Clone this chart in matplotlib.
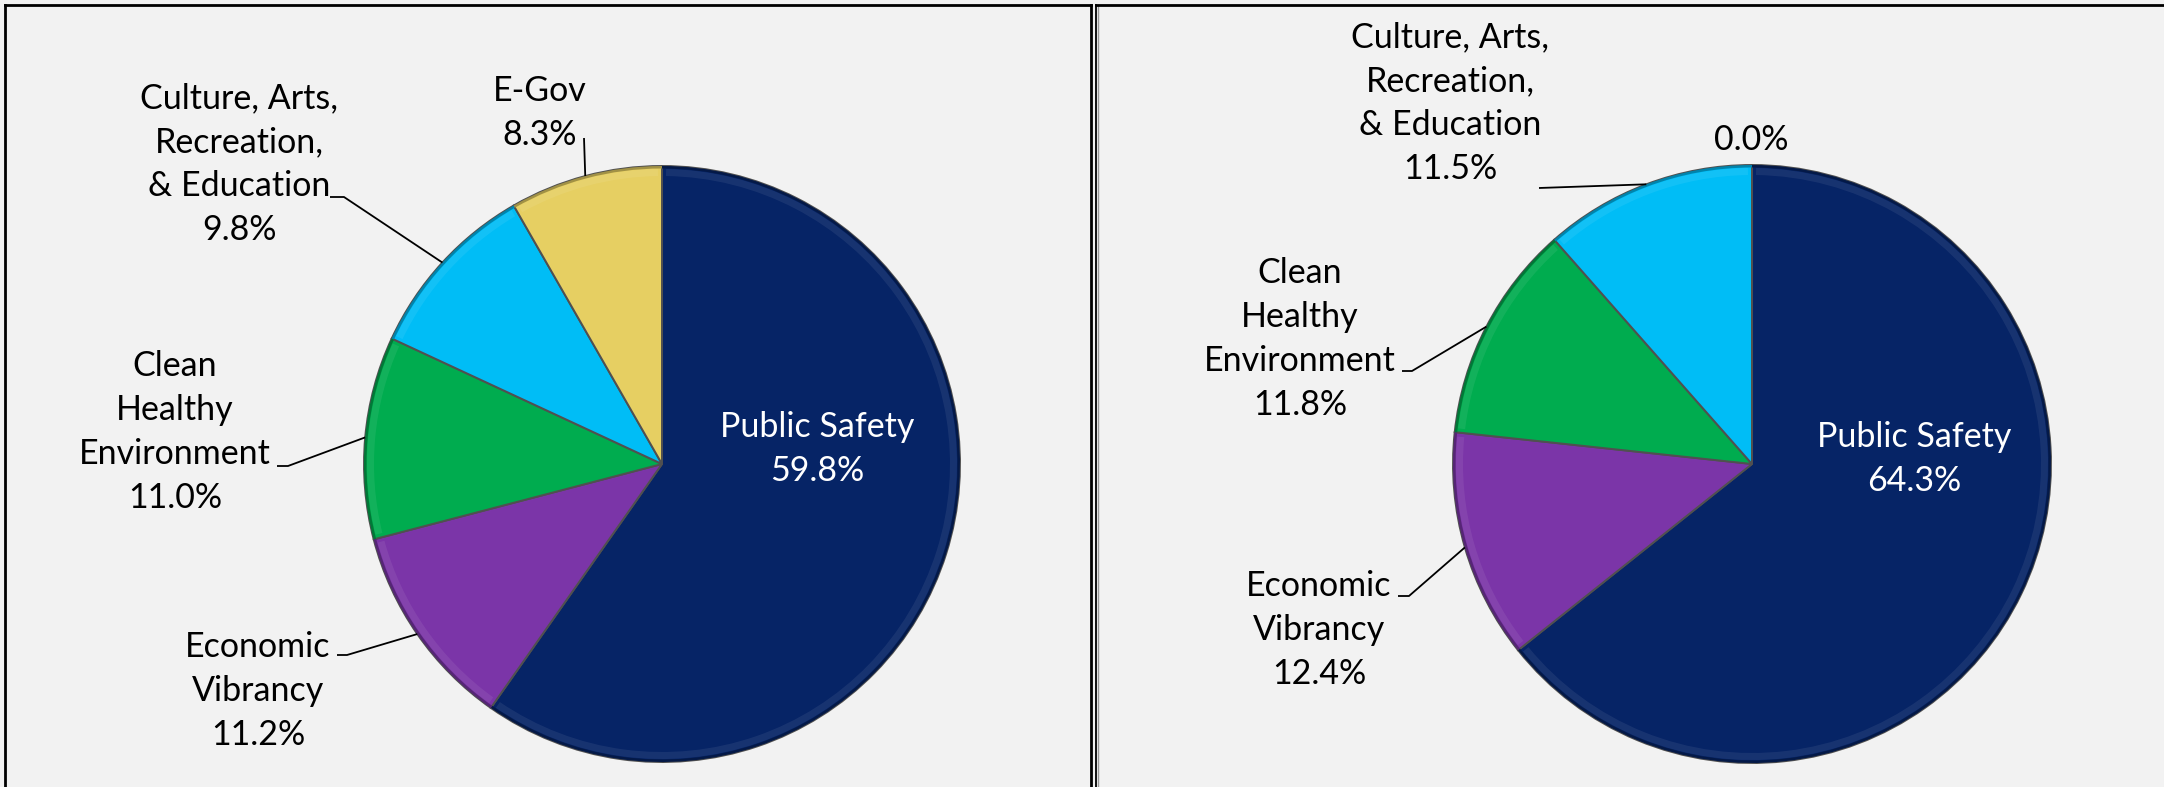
import matplotlib
matplotlib.use("Agg")
import matplotlib.pyplot as plt
from matplotlib.patches import Wedge
import matplotlib.colors as mcolors
import numpy as np

# ---------------- data ----------------
categories = ["Public Safety", "Economic Vibrancy", "Clean Healthy Environment",
              "Culture, Arts, Recreation, & Education", "E-Gov"]
left_values = [59.8, 11.2, 11.0, 9.8, 8.3]
right_values = [64.3, 12.4, 11.8, 11.5, 0.0]
left_labels = ["Public Safety\n59.8%", "Economic\nVibrancy\n11.2%",
               "Clean\nHealthy\nEnvironment\n11.0%",
               "Culture, Arts,\nRecreation,\n& Education\n9.8%", "E-Gov\n8.3%"]
right_labels = ["Public Safety\n64.3%", "Economic\nVibrancy\n12.4%",
                "Clean\nHealthy\nEnvironment\n11.8%",
                "Culture, Arts,\nRecreation,\n& Education\n11.5%", "0.0%"]
colors = ["#062466", "#7B35A8", "#00AC4F", "#00BDF6", "#E6CF62"]

W, H = 2164, 787
BG = "#F2F2F2"

fig = plt.figure(figsize=(W / 100, H / 100), dpi=100, facecolor=BG)
ax = fig.add_axes([0, 0, 1, 1])
ax.set_facecolor(BG)

FONT = "Lato"
FS = 24.5


def Y(y):
    return H - y


def lighten(c, f):
    r, g, b = mcolors.to_rgb(c)
    return (r + (1 - r) * f, g + (1 - g) * f, b + (1 - b) * f)


def darken(c, f):
    r, g, b = mcolors.to_rgb(c)
    return (r * (1 - f), g * (1 - f), b * (1 - f))


def draw_pie(values, labels, center, radius, text_pos, leaders):
    cx, cy = center[0], Y(center[1])
    wedges, _ = ax.pie(values, colors=colors, startangle=90, counterclock=False,
                       center=(cx, cy), radius=radius, frame=True,
                       wedgeprops=dict(linewidth=1.4, edgecolor="#505050"))
    # subtle bevel
    for w, c in zip(wedges, colors):
        if abs(w.theta2 - w.theta1) < 0.01:
            continue
        ax.add_patch(Wedge((cx, cy), radius - 3, w.theta1 + 0.8, w.theta2 - 0.8,
                           width=7, facecolor=lighten(c, 0.12), edgecolor="none",
                           alpha=0.6, zorder=3))
        ax.add_patch(Wedge((cx, cy), radius, w.theta1, w.theta2,
                           width=2.5, facecolor=darken(c, 0.3), edgecolor="none",
                           zorder=3))
    for i, (w, lab) in enumerate(zip(wedges, labels)):
        tx, ty = text_pos[i]
        col = "white" if i == 0 else "black"
        ax.text(tx, Y(ty), lab, ha="center", va="center", fontsize=FS,
                family=FONT, color=col, linespacing=1.45, zorder=5)
        pts = leaders[i]
        if pts:
            mid = np.deg2rad((w.theta1 + w.theta2) / 2)
            px = cx + radius * np.cos(mid)
            py = cy + radius * np.sin(mid)
            xs = [px] + [p[0] for p in pts]
            ys = [py] + [Y(p[1]) for p in pts]
            ax.plot(xs, ys, color="black", lw=1.3, zorder=4,
                    solid_capstyle="butt")


draw_pie(left_values, left_labels, (662, 464), 298,
         [(817, 449), (258, 691), (175, 432), (239, 164), (540, 113)],
         [None, [(347, 655), (337, 655)], [(288, 466), (277, 466)],
          [(344, 197), (330, 197)], [(584, 138)]])

draw_pie(right_values, right_labels, (1752, 464), 299,
         [(1914, 459), (1319, 630), (1300, 339), (1450, 103), (1751, 140)],
         [None, [(1409, 596), (1398, 596)], [(1412, 371), (1402, 371)],
          [(1539, 188)], None])

ax.set_xlim(0, W)
ax.set_ylim(0, H)
ax.set_aspect("equal")
ax.axis("off")

# panel borders
lw = 2.0
ax.plot([5, 5], [Y(5), 0], color="black", lw=lw, zorder=6)
ax.plot([5, 1091], [Y(5), Y(5)], color="black", lw=lw, zorder=6)
ax.plot([1091, 1091], [Y(5), 0], color="black", lw=lw, zorder=6)
ax.plot([1096, 1096], [Y(5), 0], color="black", lw=1.3, zorder=6)
ax.plot([1097.5, 1097.5], [Y(5), 0], color="#999999", lw=1.0, zorder=6)
ax.plot([1096, W], [Y(5), Y(5)], color="black", lw=lw, zorder=6)

fig.savefig("out.png", dpi=100, facecolor=BG)
